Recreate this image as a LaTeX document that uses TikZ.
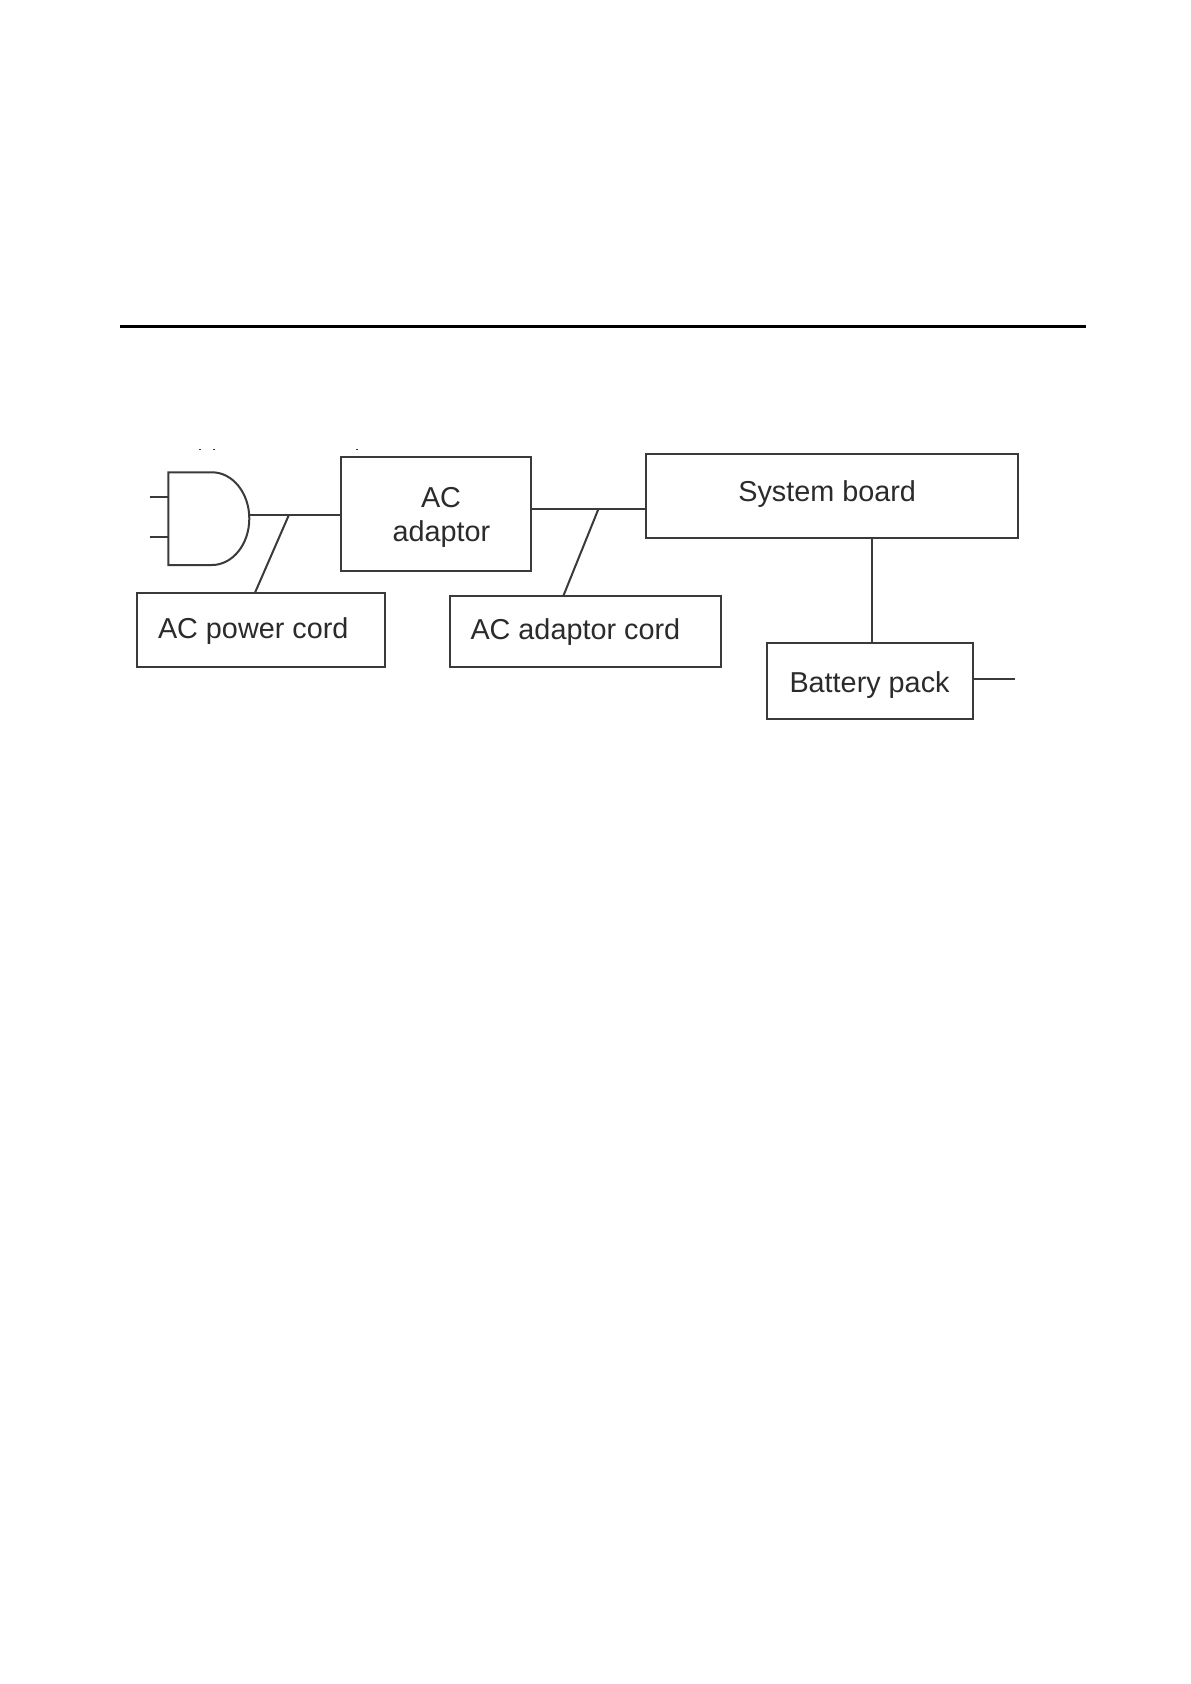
\documentclass[tikz,border=0pt]{standalone}
\usepackage{fontspec}
\setmainfont{Liberation Sans}
\definecolor{ink}{HTML}{3A3A3A}
\definecolor{txt}{HTML}{2B2B2B}
\tikzset{
  box/.style={draw=ink,line width=2pt,rectangle,inner sep=0pt,outer sep=0pt,anchor=north west},
  wire/.style={draw=ink,line width=2pt},
  lbl/.style={text=txt,inner sep=0pt,outer sep=0pt,anchor=base west,font=\fontsize{28.8}{30}\selectfont},
  lblc/.style={lbl,anchor=base}
}
\begin{document}
\begin{tikzpicture}[x=1pt,y=-1pt]
\useasboundingbox (0,0) rectangle (1191,1684);
\fill[white] (0,0) rectangle (1191,1684);
% top rule
\coordinate (ruleL) at (120,326.3);
\coordinate (ruleR) at (1086,326.3);
\draw[black,line width=3pt] (ruleL) -- (ruleR);
% tiny specks above the figure
\coordinate (sa) at (199,449.8); \coordinate (sb) at (201,449.8);
\coordinate (sc) at (213,449.8); \coordinate (sd) at (215,449.8);
\coordinate (se) at (356,449.8); \coordinate (sf) at (358,449.8);
\draw[ink,line width=0.8pt] (sa) -- (sb) (sc) -- (sd) (se) -- (sf);
% boxes
\node[box,minimum width=190.7pt,minimum height=113.5pt] (adaptor) at (340.5,457) {};
\node[box,minimum width=248pt,minimum height=74pt] (powercord) at (137,593) {};
\node[box,minimum width=270.5pt,minimum height=70.7pt] (adaptorcord) at (450,596.3) {};
\node[box,minimum width=372pt,minimum height=84.7pt] (system) at (645.8,453.6) {};
\node[box,minimum width=205.6pt,minimum height=75.7pt] (battery) at (767,643.3) {};
% labels
\node[lblc] (tAC) at (441,507.3) {AC};
\node[lblc] (tAd) at (441.5,541.7) {adaptor};
\node[lbl] (tPc) at (158,638.3) {AC power cord};
\node[lbl] (tAc) at (470.5,639.3) {AC adaptor cord};
\node[lbl] (tSy) at (738.3,501) {System board};
\node[lbl] (tBa) at (789.5,692.3) {Battery pack};
% plug
\coordinate (plugTL) at (168.3,472.3);
\coordinate (plugTR) at (212,472.3);
\coordinate (plugE) at (249.3,518.6);
\coordinate (plugBR) at (212,565);
\coordinate (plugBL) at (168.3,565);
\draw[wire,line join=miter] (plugTR) -- (plugTL) -- (plugBL) -- (plugBR)
  .. controls (232.6,565) and (249.3,544.2) .. (plugE)
  .. controls (249.3,493) and (232.6,472.3) .. (plugTR) -- cycle;
\coordinate (prongA) at (149.5,496.7);
\coordinate (prongB) at (149.5,537);
\draw[wire] (prongA) -- (prongA -| plugTL);
\draw[wire] (prongB) -- (prongB -| plugTL);
% connectors
\coordinate (plugOut) at (249.3,514.7);
\draw[wire] (plugOut) -- (plugOut -| adaptor.west);
\coordinate (tapA) at (289,514.7);
\coordinate (tapAe) at (255,592.7);
\draw[wire] (tapA) -- (tapAe);
\coordinate (adOut) at (531.2,509.3);
\draw[wire] (adOut) -- (adOut -| system.west);
\coordinate (tapB) at (598.3,509.3);
\coordinate (tapBe) at (563.3,596);
\draw[wire] (tapB) -- (tapBe);
\coordinate (sysOut) at (872.3,538.3);
\draw[wire] (sysOut) -- (sysOut |- battery.north);
\coordinate (batEnd) at (1015,679.3);
\draw[wire] (batEnd -| battery.east) -- (batEnd);
\end{tikzpicture}
\end{document}
